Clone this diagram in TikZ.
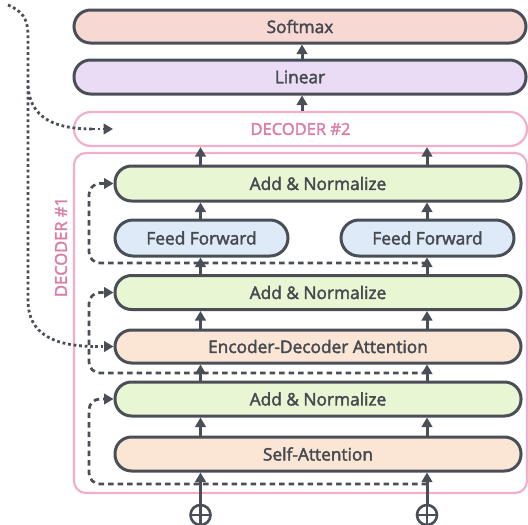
\documentclass[tikz,border=0pt]{standalone}
\usepackage{fontspec}
\setmainfont{Open Sans}
\newfontfamily\semib[FakeBold=2.2]{Open Sans}
\usetikzlibrary{arrows.meta}
\definecolor{bordc}{HTML}{4A4F57}
\definecolor{txtc}{HTML}{454950}
\definecolor{pinkline}{HTML}{F3AECB}
\definecolor{pinktxt}{HTML}{D97FA8}
\definecolor{softc}{HTML}{F8D8D3}
\definecolor{linc}{HTML}{EADCF5}
\definecolor{addc}{HTML}{E9F6D3}
\definecolor{ffc}{HTML}{DEEAF8}
\definecolor{attc}{HTML}{FBE5D5}
\begin{document}
\begin{tikzpicture}[x=1pt,y=-1pt,
  blk/.style={draw=bordc, line width=3pt, rounded corners=16.5pt, minimum height=34pt, inner sep=0pt, font=\semib\fontsize{17.3}{20}\selectfont, text=txtc},
  decbox/.style={draw=pinkline, line width=2.2pt, inner sep=0pt},
  arr/.style={-{Triangle[length=9.5pt,width=10.5pt]}, line width=3pt, draw=bordc},
  resid/.style={draw=bordc, line width=2.7pt, dash pattern=on 5.5pt off 4pt, rounded corners=11pt, -{Triangle[length=9.5pt,width=10.5pt]}},
  dotl/.style={draw=bordc, line width=2.8pt, dash pattern=on 2.8pt off 2.8pt},
  dotarr/.style={dotl, -{Triangle[length=9.5pt,width=10.5pt]}},
  plusc/.style={circle, draw=bordc, line width=2.6pt, minimum size=20pt, inner sep=0pt,
    path picture={\draw[bordc, line width=2.6pt] (path picture bounding box.north) -- (path picture bounding box.south) (path picture bounding box.west) -- (path picture bounding box.east);}}
]
\useasboundingbox (0,0) rectangle (528,525);

% outer decoder boxes
\node[decbox, rounded corners=12pt, minimum width=453pt, minimum height=340pt] (dec1) at (300.5,323) {};
\node[decbox, rounded corners=17pt, minimum width=453pt, minimum height=34pt, text=pinktxt, font=\semib\fontsize{16.5}{19}\selectfont] (dec2) at (300.5,129) {DECODER \#2};
\node[rotate=90, text=pinktxt, font=\semib\fontsize{16.5}{19}\selectfont] (dec1lbl) at (61,247) {DECODER \#1};

% top blocks
\node[blk, fill=softc, minimum width=452pt, minimum height=33pt] (soft) at (300,26.5) {Softmax};
\node[blk, fill=linc, minimum width=452pt] (lin) at (300,77) {Linear};

% inner blocks
\node[blk, fill=addc, minimum width=406pt, minimum height=35pt] (an1) at (318,183.5) {Add \& Normalize};
\node[blk, fill=ffc, minimum width=173pt, minimum height=36pt, rounded corners=18pt] (ffL) at (201.5,238) {Feed Forward};
\node[blk, fill=ffc, minimum width=173pt, minimum height=36pt, rounded corners=18pt] (ffR) at (427.5,238) {Feed Forward};
\node[blk, fill=addc, minimum width=406pt] (an2) at (318,292.5) {Add \& Normalize};
\node[blk, fill=attc, minimum width=406pt, minimum height=33pt] (eda) at (318,346.5) {Encoder-Decoder Attention};
\node[blk, fill=addc, minimum width=406pt] (an3) at (318,399) {Add \& Normalize};
\node[blk, fill=attc, minimum width=406pt] (sa) at (318,454) {Self-Attention};

% plus circles
\node[plusc] (plusL) at (200.5,515) {};
\node[plusc] (plusR) at (427,515) {};

\coordinate (colL) at (200.5,0);
\coordinate (colR) at (427,0);
\coordinate (colM) at (302,0);

% residual dashed paths (drawn first)
\coordinate (r3) at (427,484);
\coordinate (r2) at (427,373);
\coordinate (r1) at (427,263);
\draw[resid] (r3) -- (89,484) -- (89,399) -- (an3.west);
\draw[resid] (r2) -- (89,373) -- (89,292.5) -- (an2.west);
\draw[resid] (r1) -- (89,263) -- (89,183.5) -- (an1.west);

% vertical arrows
\draw[arr] (plusL.north) -- (sa.south -| plusL);
\draw[arr] (plusR.north) -- (sa.south -| plusR);
\draw[arr] (sa.north -| colL) -- (an3.south -| colL);
\draw[arr] (sa.north -| colR) -- (an3.south -| colR);
\draw[arr] (an3.north -| colL) -- (eda.south -| colL);
\draw[arr] (an3.north -| colR) -- (eda.south -| colR);
\draw[arr] (eda.north -| colL) -- (an2.south -| colL);
\draw[arr] (eda.north -| colR) -- (an2.south -| colR);
\draw[arr] (an2.north -| colL) -- (ffL.south -| colL);
\draw[arr] (an2.north -| colR) -- (ffR.south -| colR);
\draw[arr] (ffL.north -| colL) -- (an1.south -| colL);
\draw[arr] (ffR.north -| colR) -- (an1.south -| colR);
\draw[arr] (an1.north -| colL) -- (dec2.south -| colL);
\draw[arr] (an1.north -| colR) -- (dec2.south -| colR);
\draw[arr] (dec2.north -| colM) -- (lin.south -| colM);
\draw[arr] (lin.north -| colM) -- (soft.south -| colM);

% dotted encoder inputs
\coordinate (encin) at (8,5);
\coordinate (d2in) at (113,129);
\draw[dotl] (encin) .. controls (22,11) and (28,18) .. (28,36) -- (28,300) .. controls (28,335) and (55,346) .. (95,346.5);
\draw[dotarr] (95,346.5) -- (eda.west);
\draw[dotl] (28,86) .. controls (30,118) and (55,129) .. (92,129);
\draw[dotarr] (92,129) -- (d2in);
\end{tikzpicture}
\end{document}
